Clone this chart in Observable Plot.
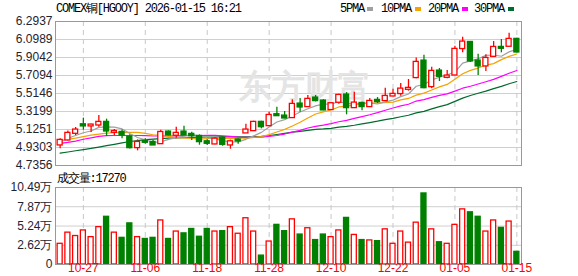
<!DOCTYPE html>
<html><head><meta charset="utf-8">
<script src="https://cdn.jsdelivr.net/npm/d3@7"></script>
<script src="https://cdn.jsdelivr.net/npm/@observablehq/plot@0.6"></script>
<style>
body{margin:0;background:#fff;}
#wrap{position:relative;width:578px;height:276px;overflow:hidden;background:#fff;}
.t{position:absolute;font-family:"Liberation Mono","DejaVu Sans Mono",monospace;font-size:12px;letter-spacing:-1.2px;color:#000;white-space:nowrap;line-height:14px;}
.sw{position:absolute;width:6px;height:4px;}
#price,#vol{position:absolute;left:0;}
</style></head><body>
<div id="wrap">
  <div id="price" style="top:0"></div>
  <div id="vol" style="top:170px"></div>
  <div class="t" style="left:56px;top:2px">COMEX铜[HGOOY] 2026-01-15 16:21</div>
  <div class="t" style="left:340px;top:2px">5PMA</div><div class="sw" style="left:367px;top:7px;background:#a0a0a0"></div>
  <div class="t" style="left:381px;top:2px">10PMA</div><div class="sw" style="left:415px;top:7px;background:#f5a300"></div>
  <div class="t" style="left:428px;top:2px">20PMA</div><div class="sw" style="left:462px;top:7px;background:#ff00ff"></div>
  <div class="t" style="left:474px;top:2px">30PMA</div><div class="sw" style="left:508px;top:7px;background:#006b2d"></div>
  <div class="t" style="left:57px;top:172px">成交量:17270</div>
</div>
<script>
const dates = ["10-22","10-23","10-24","10-27","10-28","10-29","10-30","10-31","11-03","11-04","11-05","11-06","11-07","11-10","11-11","11-12","11-13","11-14","11-17","11-18","11-19","11-20","11-21","11-24","11-25","11-26","11-27","11-28","12-01","12-02","12-03","12-04","12-05","12-08","12-09","12-10","12-11","12-12","12-15","12-16","12-17","12-18","12-19","12-22","12-23","12-24","12-26","12-29","12-30","12-31","01-02","01-05","01-06","01-07","01-08","01-09","01-12","01-13","01-14","01-15"];
const open = [4.959,5.013,5.085,5.175,5.165,5.175,5.201,5.096,5.092,5.039,4.930,4.995,4.984,4.973,5.096,5.064,5.096,5.071,5.049,4.991,4.970,5.031,4.959,5.010,5.089,5.114,5.201,5.168,5.284,5.269,5.255,5.399,5.374,5.464,5.432,5.342,5.421,5.497,5.363,5.406,5.374,5.439,5.439,5.489,5.515,5.561,5.688,5.864,5.590,5.756,5.691,5.716,6.002,6.066,5.864,5.814,5.918,6.012,6.027,6.099];
const high = [5.024,5.110,5.147,5.248,5.183,5.276,5.237,5.125,5.121,5.067,5.013,5.024,5.010,5.118,5.110,5.150,5.161,5.096,5.067,5.013,5.038,5.046,5.010,5.024,5.183,5.215,5.215,5.313,5.367,5.320,5.446,5.461,5.493,5.493,5.446,5.414,5.507,5.525,5.529,5.421,5.461,5.471,5.572,5.561,5.623,5.666,5.900,5.929,5.800,5.785,5.764,6.027,6.124,6.077,5.940,5.933,6.077,6.099,6.167,6.113];
const low = [4.916,5.002,5.060,5.118,5.092,5.150,5.049,5.060,5.024,4.915,4.894,4.966,4.955,4.966,5.056,5.031,5.060,5.006,4.955,4.952,4.959,4.944,4.912,4.966,5.082,5.110,5.132,5.165,5.273,5.240,5.251,5.313,5.370,5.424,5.327,5.338,5.399,5.284,5.356,5.327,5.370,5.406,5.428,5.486,5.486,5.540,5.673,5.565,5.565,5.644,5.673,5.709,5.955,5.850,5.709,5.753,5.904,5.955,6.023,5.955];
const close = [5.006,5.082,5.118,5.165,5.172,5.201,5.110,5.103,5.067,4.930,4.984,4.988,4.959,5.092,5.067,5.082,5.067,5.060,4.995,4.977,5.020,4.966,4.991,5.002,5.118,5.201,5.157,5.276,5.276,5.251,5.396,5.370,5.450,5.439,5.338,5.403,5.493,5.363,5.410,5.374,5.428,5.428,5.482,5.504,5.561,5.569,5.850,5.579,5.753,5.702,5.702,5.991,6.070,5.868,5.814,5.893,6.012,6.005,6.099,5.965];
const volume = [2.82,4.34,3.88,4.64,3.73,5.09,6.50,4.34,3.63,5.60,3.73,3.48,3.63,6.00,3.48,4.49,4.24,4.84,3.78,4.84,4.49,4.54,5.09,4.19,6.30,4.49,1.21,3.13,5.40,4.54,6.15,4.08,4.94,3.33,4.08,3.73,4.64,6.35,4.03,3.33,3.28,3.18,4.79,2.82,4.49,2.98,5.70,9.68,4.79,3.03,2.82,5.40,7.51,7.11,6.50,4.49,6.00,4.99,5.85,1.727];
const volUp = [1,1,1,1,1,1,0,1,0,0,1,0,0,1,0,1,0,0,0,0,1,0,1,1,1,1,0,1,0,0,1,0,1,0,0,1,1,0,1,0,1,0,1,1,1,1,1,0,1,0,1,1,1,0,0,1,1,0,1,0];
const ma5 = [4.99,5.03,5.06,5.09,5.109,5.148,5.153,5.150,5.131,5.082,5.039,5.014,4.986,4.991,5.018,5.038,5.053,5.074,5.054,5.036,5.024,5.004,4.990,4.991,5.019,5.056,5.094,5.151,5.206,5.232,5.271,5.314,5.349,5.381,5.399,5.400,5.425,5.407,5.401,5.409,5.414,5.401,5.424,5.443,5.481,5.509,5.593,5.613,5.662,5.691,5.717,5.745,5.844,5.867,5.889,5.927,5.931,5.918,5.965,5.995];
const ma10 = [5.006,5.018,5.031,5.048,5.065,5.076,5.086,5.090,5.093,5.095,5.093,5.084,5.068,5.061,5.050,5.038,5.034,5.030,5.022,5.027,5.031,5.029,5.032,5.023,5.028,5.040,5.049,5.070,5.098,5.126,5.163,5.204,5.250,5.293,5.315,5.336,5.369,5.378,5.391,5.404,5.407,5.413,5.416,5.422,5.445,5.461,5.497,5.519,5.553,5.586,5.613,5.669,5.728,5.765,5.790,5.822,5.838,5.881,5.916,5.942];
const ma20 = [4.975,4.985,5.000,5.020,5.035,5.050,5.058,5.060,5.060,5.060,5.060,5.058,5.055,5.055,5.055,5.057,5.058,5.060,5.060,5.061,5.062,5.056,5.050,5.042,5.039,5.039,5.041,5.050,5.060,5.076,5.097,5.116,5.141,5.158,5.172,5.188,5.209,5.224,5.245,5.265,5.285,5.308,5.333,5.358,5.380,5.398,5.433,5.448,5.472,5.495,5.510,5.541,5.572,5.593,5.617,5.642,5.668,5.700,5.734,5.764];
const ma30 = [4.870,4.882,4.895,4.907,4.920,4.935,4.950,4.965,4.980,4.995,5.005,5.015,5.022,5.027,5.032,5.035,5.038,5.040,5.042,5.043,5.044,5.045,5.045,5.045,5.046,5.048,5.052,5.060,5.071,5.083,5.096,5.105,5.116,5.126,5.131,5.138,5.151,5.159,5.171,5.186,5.200,5.215,5.232,5.246,5.263,5.279,5.305,5.322,5.348,5.372,5.394,5.429,5.465,5.493,5.517,5.540,5.568,5.592,5.620,5.644];
const yTicks = [4.7356,4.9303,5.1251,5.3199,5.5146,5.7094,5.9042,6.0989,6.2937];
const yTickLabels = ["4.7356","4.9303","5.1251","5.3199","5.5146","5.7094","5.9042","6.0989","6.2937"];
const volTicks = [0,2.62,5.24,7.87,10.49];
const volTickLabels = ["0","2.62万","5.24万","7.87万","10.49万"];
const xTickDates = ["10-27","11-06","11-18","11-28","12-10","12-22","01-05","01-15"];

const RED = "#ff0000", GREEN = "#008000";
const rows = dates.map((d, i) => ({date: d, open: open[i], high: high[i], low: low[i], close: close[i],
  vol: volume[i], vup: volUp[i], ma5: ma5[i], ma10: ma10[i], ma20: ma20[i], ma30: ma30[i]}));
const isUp = d => d.close >= d.open;
const font = "'Liberation Sans', Arial, sans-serif";
const xScale = {type: "band", domain: dates, paddingInner: 0.35, paddingOuter: 0.275, axis: null};

const price = Plot.plot({
  width: 578, height: 170, marginLeft: 55, marginRight: 57, marginTop: 21, marginBottom: 5,
  style: {fontFamily: font, fontSize: "12px", background: "transparent", overflow: "visible"},
  x: xScale,
  y: {domain: [4.7356, 6.2937], axis: null},
  marks: [
    Plot.ruleY(yTicks, {stroke: "#cfcfcf"}),
    Plot.ruleX(xTickDates, {stroke: "#c8c8c8", strokeDasharray: "5,4"}),
    Plot.text(["东方财富"], {frameAnchor: "middle", dx: 16, dy: -6, fontSize: 33, fontWeight: "bold", fill: "#e4e4e4"}),
    Plot.line(rows, {x: "date", y: "ma30", stroke: "#006b2d", strokeWidth: 1.2}),
    Plot.line(rows, {x: "date", y: "ma20", stroke: "#ff00ff", strokeWidth: 1.2}),
    Plot.line(rows, {x: "date", y: "ma10", stroke: "#f5a300", strokeWidth: 1.2}),
    Plot.line(rows, {x: "date", y: "ma5", stroke: "#a0a0a0", strokeWidth: 1.2}),
    Plot.ruleX(rows, {x: "date", y1: "low", y2: "high", stroke: d => isUp(d) ? RED : GREEN, strokeWidth: 1.3}),
    Plot.barY(rows, {x: "date", y1: d => Math.min(d.open, d.close), y2: d => Math.max(d.open, d.close),
      fill: d => isUp(d) ? "#ffffff" : GREEN, stroke: d => isUp(d) ? RED : GREEN, strokeWidth: 1.3,
      insetTop: -0.6, insetBottom: -0.6}),
    Plot.frame({stroke: "#999999"}),
    Plot.text(yTicks, {y: d => d, text: (d, i) => yTickLabels[i], frameAnchor: "left", dx: -3, textAnchor: "end", fill: "#1f2330", fontSize: 12})
  ]
});
document.getElementById("price").appendChild(price);

const vol = Plot.plot({
  width: 578, height: 106, marginLeft: 55, marginRight: 57, marginTop: 17, marginBottom: 12,
  style: {fontFamily: font, fontSize: "12px", background: "transparent", overflow: "visible"},
  x: xScale,
  y: {domain: [0, 10.49], axis: null},
  marks: [
    Plot.ruleY(volTicks, {stroke: "#cfcfcf"}),
    Plot.ruleX(xTickDates, {stroke: "#c8c8c8", strokeDasharray: "5,4"}),
    Plot.barY(rows, {x: "date", y: "vol", fill: d => d.vup ? "#ffffff" : GREEN, stroke: d => d.vup ? RED : GREEN, strokeWidth: 1.3}),
    Plot.frame({stroke: "#999999"}),
    Plot.text(volTicks, {y: d => d, text: (d, i) => volTickLabels[i], frameAnchor: "left", dx: -3, textAnchor: "end", fill: "#1f2330", fontSize: 12}),
    Plot.text(xTickDates, {x: d => d, frameAnchor: "bottom", dy: 7, fill: RED, fontSize: 12})
  ]
});
document.getElementById("vol").appendChild(vol);
</script>
</body></html>
